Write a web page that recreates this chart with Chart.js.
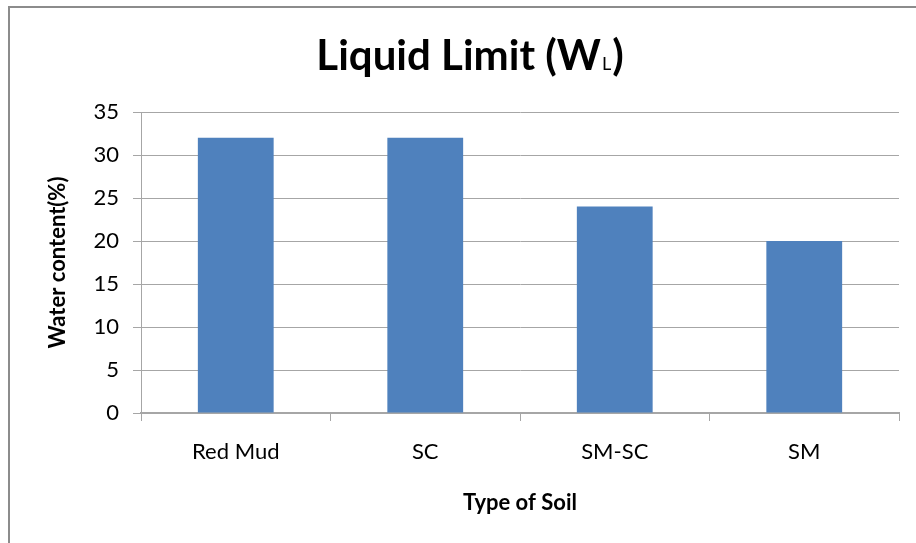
<!DOCTYPE html>
<html>
<head>
<meta charset="utf-8">
<script src="https://cdn.jsdelivr.net/npm/chart.js@4/dist/chart.umd.min.js"></script>
<style>
  html, body { margin: 0; padding: 0; background: #ffffff; }
  #wrap { width: 916px; height: 543px; position: relative; }
</style>
</head>
<body>
<div id="wrap"><canvas id="c" width="916" height="543"></canvas></div>
<script>
const categories = ["Red Mud", "SC", "SM-SC", "SM"];
const liquidLimit = [32, 32, 24, 20];
const yTicks = [0, 5, 10, 15, 20, 25, 30, 35];
const titleMain = "Liquid Limit (W";
const titleSub = "L";
const titleEnd = ")";
const xTitle = "Type of Soil";
const yTitle = "Water content(%)";

const FONT = "Lato, 'Open Sans', 'DejaVu Sans', sans-serif";
const GRID = "#a6a6a6";

const framePlugin = {
  id: "frame",
  beforeDraw(chart) {
    const ctx = chart.ctx;
    ctx.save();
    ctx.fillStyle = "#ffffff";
    ctx.fillRect(0, 0, chart.width, chart.height);
    ctx.strokeStyle = "#8c8c8c";
    ctx.lineWidth = 2;
    ctx.beginPath();
    ctx.moveTo(9, chart.height);
    ctx.lineTo(9, 7);
    ctx.lineTo(chart.width, 7);
    ctx.stroke();
    ctx.restore();
  }
};

const titlePlugin = {
  id: "subTitle",
  afterDraw(chart) {
    const ctx = chart.ctx;
    ctx.save();
    ctx.fillStyle = "#000000";
    ctx.textBaseline = "alphabetic";
    const big = "bold 42px " + FONT;
    const small = "18px " + FONT;
    ctx.font = big;
    const w1 = ctx.measureText(titleMain).width;
    const w3 = ctx.measureText(titleEnd).width;
    ctx.font = small;
    const w2 = ctx.measureText(titleSub).width;
    const total = w1 + w2 + w3 + 2;
    const cx = 470;
    const base = 70;
    let x = cx - total / 2;
    ctx.textAlign = "left";
    ctx.font = big;
    ctx.fillText(titleMain, x, base);
    x += w1 + 1;
    ctx.font = small;
    ctx.fillText(titleSub, x, base);
    x += w2 + 1;
    ctx.font = big;
    ctx.fillText(titleEnd, x, base);
    ctx.restore();
  }
};

new Chart(document.getElementById("c"), {
  type: "bar",
  data: {
    labels: categories,
    datasets: [{
      label: "Liquid Limit",
      data: liquidLimit,
      backgroundColor: "#4f81bd",
      borderWidth: 0,
      categoryPercentage: 1.0,
      barPercentage: 0.4
    }]
  },
  options: {
    responsive: false,
    animation: false,
    devicePixelRatio: 1,
    layout: { padding: { top: 112, right: 17, bottom: 0, left: 0 } },
    plugins: {
      legend: { display: false },
      title: { display: false },
      tooltip: { enabled: false }
    },
    scales: {
      x: {
        afterFit(scale) { scale.height = 130; },
        grid: {
          display: true,
          drawOnChartArea: false,
          drawTicks: true,
          tickLength: 8,
          color: GRID,
          lineWidth: 1
        },
        border: { display: true, color: GRID, width: 2 },
        ticks: {
          color: "#000000",
          padding: 18,
          font: { family: FONT, size: 22 }
        },
        title: {
          display: true,
          text: xTitle,
          color: "#000000",
          font: { family: FONT, size: 22, weight: "bold" },
          padding: { top: 0, bottom: 27 }
        }
      },
      y: {
        min: 0,
        max: 35,
        afterFit(scale) { scale.width = 141; },
        afterBuildTicks(scale) { scale.ticks = yTicks.map(v => ({ value: v })); },
        grid: {
          color: GRID,
          lineWidth: 1,
          drawTicks: true,
          tickLength: 8
        },
        border: { display: true, color: GRID, width: 1 },
        ticks: {
          color: "#000000",
          padding: 14,
          font: { family: FONT, size: 22 }
        },
        title: {
          display: true,
          text: yTitle,
          color: "#000000",
          font: { family: FONT, size: 22, weight: "bold" },
          padding: { top: 45, bottom: 0 }
        }
      }
    }
  },
  plugins: [framePlugin, titlePlugin]
});
</script>
</body>
</html>
